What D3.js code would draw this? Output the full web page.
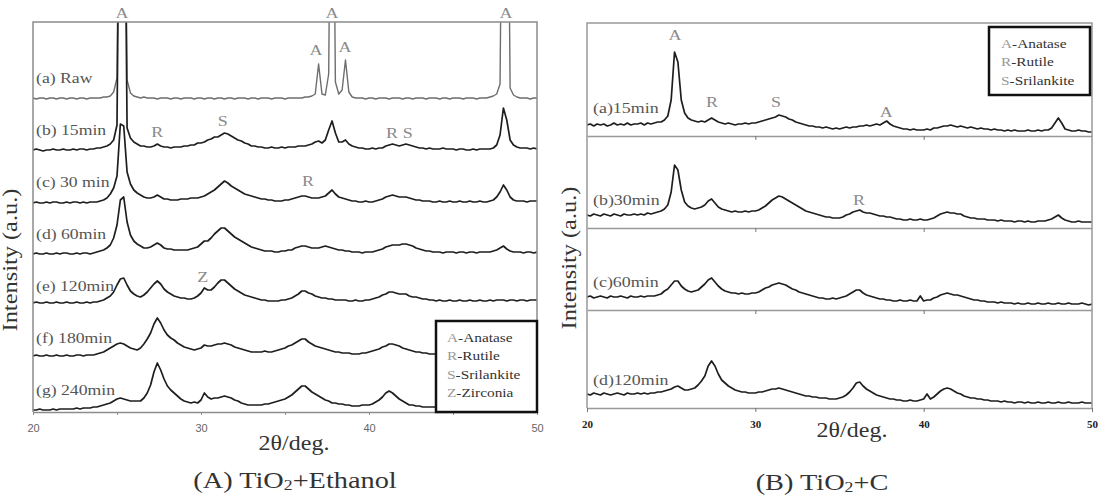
<!DOCTYPE html>
<html>
<head>
<meta charset="utf-8">
<script src="https://cdn.jsdelivr.net/npm/d3@7"></script>
<style>
  body { margin: 0; background: #fff; }
  svg { display: block; }
  text.serif { font-family: "Liberation Serif", "DejaVu Serif", "Times New Roman", Times, serif; }
</style>
</head>
<body>
<svg id="chart" width="1107" height="496"></svg>
<script>
// 2-theta sampling grid, 20..50 deg every 0.2 deg
const deg = d3.range(151).map(i => +(20 + i * 0.2).toFixed(1));

// ---- (A) TiO2 + Ethanol, intensities (a.u.) ----
const rawA = [
  2,1,2,2,1, 2,2,1,2,2, 1,2,2,1,2, 2,1,2,2,2, 2,3,3,4,8,
  22,400,400,20,7, 4,3,2,3,2, 2,2,1,2,2, 2,1,2,2,1, 2,2,2,1,2,
  2,1,2,2,1, 2,2,1,2,2, 1,2,2,2,1, 2,2,1,2,2, 2,1,2,2,2,
  1,2,2,2,2, 2,3,3,4,6, 36,6,5,26,400, 18,6,10,40,8, 3,2,2,2,1,
  2,2,1,2,2, 2,1,2,2,2, 1,2,2,1,2, 2,2,1,2,2, 2,1,2,2,1,
  2,2,2,1,2, 2,2,1,2,2, 2,3,4,6,16, 400,400,12,5,3, 2,2,2,1,2, 2];
const min15A = [
  2,3,2,1,2, 2,3,2,2,3, 2,2,3,2,3, 3,2,3,3,4, 4,5,6,8,12,
  27,400,400,24,14, 10,8,6,6,5, 5,6,8,6,5, 5,4,5,5,5, 6,6,7,7,9,
  9,10,12,13,15, 15,17,19,18,16, 14,12,11,9,8, 6,6,5,5,4, 4,5,4,4,5,
  4,5,5,5,6, 6,6,7,8,10, 11,9,12,22,31, 19,10,10,12,8, 6,5,4,4,3,
  3,4,3,4,4, 6,7,8,7,6, 7,8,7,6,5, 4,4,3,4,3, 3,3,4,3,3,
  3,2,3,3,2, 2,3,2,3,3, 3,3,4,7,17, 44,32,12,7,5, 4,4,4,3,4, 3];
const min30A = [
  1,2,1,1,2, 1,2,2,1,1, 2,1,2,2,1, 2,1,2,2,2, 3,4,6,10,16,
  28,80,78,32,20, 14,11,9,7,6, 6,7,9,7,5, 5,4,4,4,5, 5,5,6,6,6,
  7,8,10,12,14, 17,20,23,21,18, 16,14,12,10,9, 8,7,6,5,5, 4,4,3,3,3,
  4,4,5,6,7, 8,8,7,6,6, 6,7,8,11,14, 10,7,6,5,4, 3,3,2,2,3,
  2,2,3,4,5, 7,8,9,8,7, 7,7,6,5,4, 4,3,3,3,2, 2,3,2,2,3,
  2,2,3,2,2, 3,2,2,3,2, 2,3,4,7,12, 19,14,7,4,3, 3,3,2,3,3, 3];
const min60A = [
  2,3,2,2,3, 2,2,3,2,3, 3,2,2,3,2, 3,3,2,3,4, 5,6,8,11,18,
  31,56,59,34,21, 15,12,10,8,8, 9,11,13,11,8, 7,7,6,6,6, 6,6,7,8,9,
  12,15,15,18,22, 25,28,28,25,22, 19,17,15,13,11, 9,8,7,6,5, 5,5,4,4,5,
  5,6,6,8,9, 10,10,9,8,8, 8,9,10,9,8, 7,6,6,5,5, 4,4,4,3,4,
  4,4,5,6,7, 9,10,11,11,11, 12,12,11,10,8, 7,6,5,5,4, 4,4,3,4,4,
  4,3,4,4,3, 4,4,3,4,4, 4,4,5,6,8, 10,7,5,4,4, 4,3,4,4,3, 4];
const min120A = [
  5,6,5,5,6, 5,5,6,5,5, 6,5,5,6,5, 5,6,5,6,6, 7,8,10,12,16,
  23,29,30,23,17, 14,12,11,13,16, 20,24,27,24,19, 16,14,12,11,10, 10,9,9,10,12,
  15,20,18,18,21, 25,28,28,25,22, 19,17,15,13,12, 11,10,9,8,8, 7,7,7,7,8,
  8,9,10,12,14, 17,17,15,14,12, 11,10,10,9,9, 8,8,8,8,7, 7,8,7,7,8,
  8,9,10,11,13, 14,16,16,15,14, 14,14,12,11,11, 10,9,9,8,8, 7,8,7,7,8,
  7,7,8,7,7, 8,7,7,8,7, 7,8,7,8,8, 8,7,8,8,7, 8,8,7,8,8, 8];
const min180A = [
  4,5,4,4,5, 4,4,5,4,4, 5,4,4,5,5, 4,5,5,5,6, 7,8,10,12,14,
  16,17,16,14,12, 11,10,12,16,21, 27,36,42,37,30, 25,22,20,17,15, 13,12,11,10,11,
  12,15,14,14,15, 16,16,17,16,15, 13,12,11,10,9, 8,8,8,8,9, 8,8,9,10,11,
  12,14,15,17,19, 21,21,18,16,14, 13,12,11,10,9, 8,8,7,7,7, 6,6,6,7,7,
  8,9,10,11,13, 14,16,16,15,14, 12,11,10,9,8, 8,7,7,6,6, 6,6,5,6,6,
  6,5,6,6,5, 6,6,5,6,6, 6,5,6,6,6, 6,6,5,6,6, 5,6,6,5,6, 6];
const min240A = [
  2,2,3,2,2, 2,3,2,3,3, 3,3,3,4,3, 4,4,4,5,5, 6,7,8,9,11,
  13,14,13,12,11, 11,11,11,14,19, 27,40,49,42,33, 26,22,19,16,13, 11,10,9,10,9,
  12,19,15,13,14, 14,15,16,15,14, 12,11,9,8,7, 7,7,7,7,8, 8,9,10,11,12,
  13,15,17,20,23, 26,26,23,20,18, 16,14,12,11,9, 9,8,8,7,7, 6,6,6,7,7,
  7,8,10,12,15, 19,21,19,16,13, 11,9,7,7,6, 6,5,5,5,5, 5,5,4,5,5,
  5,4,5,5,4, 5,5,4,5,5, 5,4,5,5,5, 5,5,4,5,5, 4,5,5,4,5, 5];
const seriesA = [rawA, min15A, min30A, min60A, min120A, min180A, min240A];
const labelsA = ["(a) Raw", "(b) 15min", "(c) 30 min", "(d) 60min", "(e) 120min", "(f) 180min", "(g) 240min"];

// ---- (B) TiO2 + C ----
const min15B = [
  11,12,10,12,11, 12,10,11,13,11, 12,11,13,11,12, 12,13,11,13,12, 13,14,14,16,20,
  36,84,74,36,23, 18,16,15,14,15, 14,16,18,16,14, 13,12,13,12,11, 12,12,13,12,13,
  13,14,15,16,17, 18,19,21,20,19, 17,16,14,13,12, 11,10,10,9,9, 8,9,8,7,8,
  7,8,9,8,9, 9,10,10,11,10, 11,12,11,13,15, 12,10,9,8,7, 7,6,7,6,6,
  6,7,6,8,8, 9,10,10,11,10, 9,10,9,8,9, 8,7,8,7,7, 6,7,6,6,5,
  6,5,6,5,5, 5,6,5,5,6, 5,6,6,8,13, 18,13,7,6,5, 5,6,5,5,4, 4];
const min30B = [
  13,12,14,13,12, 14,13,12,14,13, 12,14,13,13,14, 13,14,13,15,14, 15,16,17,19,23,
  36,63,58,38,26, 22,20,19,20,21, 23,27,29,25,21, 19,18,17,16,17, 16,16,17,16,17,
  17,18,20,22,25, 28,30,32,31,29, 27,25,23,21,19, 17,16,15,14,13, 12,11,11,10,10,
  10,11,13,14,16, 17,18,16,15,15, 14,13,12,12,11, 11,10,9,9,8, 8,9,8,8,9,
  8,8,9,10,12, 14,15,16,15,15, 14,14,12,11,10, 10,9,9,9,8, 8,8,7,8,7,
  7,7,6,7,7, 6,7,6,6,7, 7,7,8,9,11, 13,10,8,7,6, 6,7,6,6,6, 6];
const min60B = [
  13,14,12,13,14, 13,12,14,13,13, 14,13,12,14,13, 13,14,13,14,14, 14,15,16,19,21,
  25,29,29,24,21, 19,18,19,20,23, 26,30,32,28,24, 21,19,18,17,17, 16,17,16,16,17,
  17,18,20,22,23, 25,26,27,26,25, 23,21,20,18,17, 16,15,14,13,12, 12,11,11,12,11,
  12,13,14,16,18, 20,20,17,15,14, 13,12,11,11,10, 10,9,9,10,9, 9,10,9,9,14,
  9,10,10,12,13, 15,16,17,16,15, 15,14,13,12,11, 10,10,9,9,8, 8,8,7,8,7,
  7,7,6,7,6, 6,7,6,6,7, 6,6,7,6,6, 7,6,6,7,6, 6,6,7,6,5, 6];
const min120B = [
  14,13,15,14,13, 15,14,13,14,15, 14,13,15,14,14, 15,14,15,14,15, 15,16,16,17,18,
  19,21,22,20,18, 18,19,20,23,27, 32,42,47,42,34, 28,25,22,20,18, 17,16,16,15,15,
  15,16,16,17,18, 19,19,20,19,18, 17,16,15,14,13, 12,12,11,11,10, 10,10,9,9,9,
  10,11,13,16,20, 25,26,22,19,17, 15,13,12,11,10, 9,9,8,8,7, 7,8,7,7,8,
  9,14,9,11,14, 17,19,20,19,17, 15,14,12,11,10, 10,9,9,8,8, 7,7,7,6,7,
  6,6,5,6,6, 5,6,5,5,6, 5,5,6,5,5, 6,5,5,6,5, 5,5,6,5,5, 5];
const seriesB = [min15B, min30B, min60B, min120B];
const labelsB = ["(a)15min", "(b)30min", "(c)60min", "(d)120min"];

// phase marks: [2theta, height on panel scale, letter]
const marksA = [[25.3, 399, "A"], [37.8, 399, "A"], [48.15, 399, "A"], [36.85, 362, "A"], [38.57, 365, "A"],
  [27.4, 280, "R"], [31.3, 291, "S"], [41.37, 279, "R"], [42.3, 279, "S"], [36.37, 231, "R"], [30.1, 135, "Z"]];
const marksB = [[25.23, 373, "A"], [27.43, 306, "R"], [31.23, 306, "S"], [37.77, 296, "A"], [36.16, 208, "R"]];

const legendA = [["A", "-Anatase"], ["R", "-Rutile"], ["S", "-Srilankite"], ["Z", "-Zirconia"]];
const legendB = [["A", "-Anatase"], ["R", "-Rutile"], ["S", "-Srilankite"]];

const svg = d3.select("#chart");

// text with the wide look of the scanned figure
function put(g, x, y, s, size, fill, opts) {
  opts = opts || {};
  let tr = `translate(${x},${y})` + (opts.rot ? " rotate(-90)" : "") + ` scale(${opts.sx || 1.2},1)`;
  return g.append("text")
    .attr("class", "serif")
    .attr("transform", tr)
    .attr("font-size", size)
    .attr("font-weight", opts.weight || "normal")
    .attr("fill", fill)
    .attr("text-anchor", opts.anchor || "middle")
    .attr("dominant-baseline", "central")
    .text(s);
}

const defs = svg.append("defs");

// ================= panel A =================
const xA = d3.scaleLinear().domain([20, 50]).range([33, 537]);
const yA = d3.scaleLinear().domain([0, 390]).range([412, 22]);
const gA = svg.append("g");

defs.append("clipPath").attr("id", "clipA").append("rect")
  .attr("x", xA(20)).attr("y", yA(390)).attr("width", xA(50) - xA(20)).attr("height", yA(0) - yA(390));

seriesA.forEach((vals, i) => {
  let off = (seriesA.length - 1 - i) * 52;
  let line = d3.line().x((d, j) => xA(deg[j])).y(d => yA(off + d));
  gA.append("path").datum(vals)
    .attr("clip-path", "url(#clipA)")
    .attr("d", line)
    .attr("fill", "none")
    .attr("stroke", i == 0 ? "#6e6e6e" : "#1e1e1e")
    .attr("stroke-width", i == 0 ? 1.4 : 1.7)
    .attr("stroke-linejoin", "round");
  put(gA, 36, yA(off + 22), labelsA[i], 14.5, "#555", {anchor: "start", sx: 1.22});
});

// frame
gA.append("path")
  .attr("d", `M${xA(20)},${yA(0)}V${yA(390)}H${xA(50)}V${yA(0)}`)
  .attr("fill", "none").attr("stroke", "#8c8c8c").attr("stroke-width", 1.5);

const axA = gA.append("g").attr("transform", `translate(0,${yA(0)})`)
  .call(d3.axisBottom(xA).tickValues([20, 25, 30, 35, 40, 45, 50]).tickSize(3).tickSizeOuter(0)
    .tickPadding(9).tickFormat(d => d % 10 === 0 ? d : ""));
axA.select(".domain").attr("stroke", "#8c8c8c").attr("stroke-width", 1.5);
axA.selectAll(".tick line").attr("stroke", "#8c8c8c");
axA.selectAll(".tick text").attr("font-family", '"Liberation Sans",Arial,sans-serif')
  .attr("font-size", 11).attr("fill", "#666");

marksA.forEach(m => put(gA, xA(m[0]), yA(m[1]), m[2], 15, "#8a8a8a"));

// legend A
const lgA = gA.append("g");
lgA.append("rect").attr("x", 436).attr("y", 321).attr("width", 101).attr("height", 91)
  .attr("fill", "#fff").attr("stroke", "#111").attr("stroke-width", 2.5);
legendA.forEach((e, i) => {
  let t = put(lgA, 447, 337 + i * 18.5, "", 13, "#333", {anchor: "start", sx: 1.18});
  t.append("tspan").attr("fill", "#999").text(e[0]);
  t.append("tspan").text(e[1]);
});

put(gA, 294, 443, "2θ/deg.", 20, "#333");
let tA = put(gA, 295, 480, "", 24, "#333", {sx: 1.18});
tA.append("tspan").text("(A) TiO");
tA.append("tspan").attr("font-size", 15).attr("dy", 5).text("2");
tA.append("tspan").attr("dy", -5).text("+Ethanol");
put(gA, 10, 260, "Intensity (a.u.)", 20, "#333", {rot: true, sx: 1.22});

// ================= panel B =================
const xB = d3.scaleLinear().domain([20, 50]).range([587, 1092]);
const bandEdges = [23, 136, 228, 310, 408];
const gB = svg.append("g");

seriesB.forEach((vals, i) => {
  let top = bandEdges[i], bot = bandEdges[i + 1];
  let yb = d3.scaleLinear().domain([0, bot - top]).range([bot, top]);
  defs.append("clipPath").attr("id", "clipB" + i).append("rect")
    .attr("x", xB(20)).attr("y", top).attr("width", xB(50) - xB(20)).attr("height", bot - top);
  gB.append("path").datum(vals)
    .attr("clip-path", `url(#clipB${i})`)
    .attr("d", d3.line().x((d, j) => xB(deg[j])).y(d => yb(d)))
    .attr("fill", "none").attr("stroke", "#1e1e1e").attr("stroke-width", 1.7)
    .attr("stroke-linejoin", "round");
  put(gB, 593, yb(28), labelsB[i], 14, "#555", {anchor: "start", sx: 1.28});

  let ax = gB.append("g").attr("transform", `translate(0,${bot})`)
    .call(d3.axisBottom(xB).tickValues(i == 3 ? [20, 30, 40, 50] : [30, 40]).tickSize(4).tickSizeOuter(0)
      .tickPadding(8).tickFormat(i == 3 ? d3.format("d") : () => ""));
  ax.select(".domain").attr("stroke", "#999").attr("stroke-width", 1.5);
  ax.selectAll(".tick line").attr("stroke", "#777");
  ax.selectAll(".tick text").attr("class", "serif").attr("font-weight", "bold")
    .attr("font-size", 11).attr("fill", "#222");
});

gB.append("path")
  .attr("d", `M${xB(20)},${bandEdges[4]}V${bandEdges[0]}H${xB(50)}V${bandEdges[4]}`)
  .attr("fill", "none").attr("stroke", "#999").attr("stroke-width", 1.5);

const yBall = d3.scaleLinear().domain([0, 385]).range([408, 23]);
marksB.forEach(m => put(gB, xB(m[0]), yBall(m[1]), m[2], 15, "#8a8a8a"));

const lgB = gB.append("g");
lgB.append("rect").attr("x", 989).attr("y", 27).attr("width", 101).attr("height", 68)
  .attr("fill", "#fff").attr("stroke", "#111").attr("stroke-width", 2.5);
legendB.forEach((e, i) => {
  let t = put(lgB, 1001, 43 + i * 18.5, "", 13, "#333", {anchor: "start", sx: 1.18});
  t.append("tspan").attr("fill", "#999").text(e[0]);
  t.append("tspan").text(e[1]);
});

put(gB, 852, 430, "2θ/deg.", 20, "#333");
let tB = put(gB, 822, 482, "", 24, "#333", {sx: 1.18});
tB.append("tspan").text("(B) TiO");
tB.append("tspan").attr("font-size", 15).attr("dy", 5).text("2");
tB.append("tspan").attr("dy", -5).text("+C");
put(gB, 569, 258, "Intensity (a.u.)", 20, "#333", {rot: true, sx: 1.22});
</script>
</body>
</html>
